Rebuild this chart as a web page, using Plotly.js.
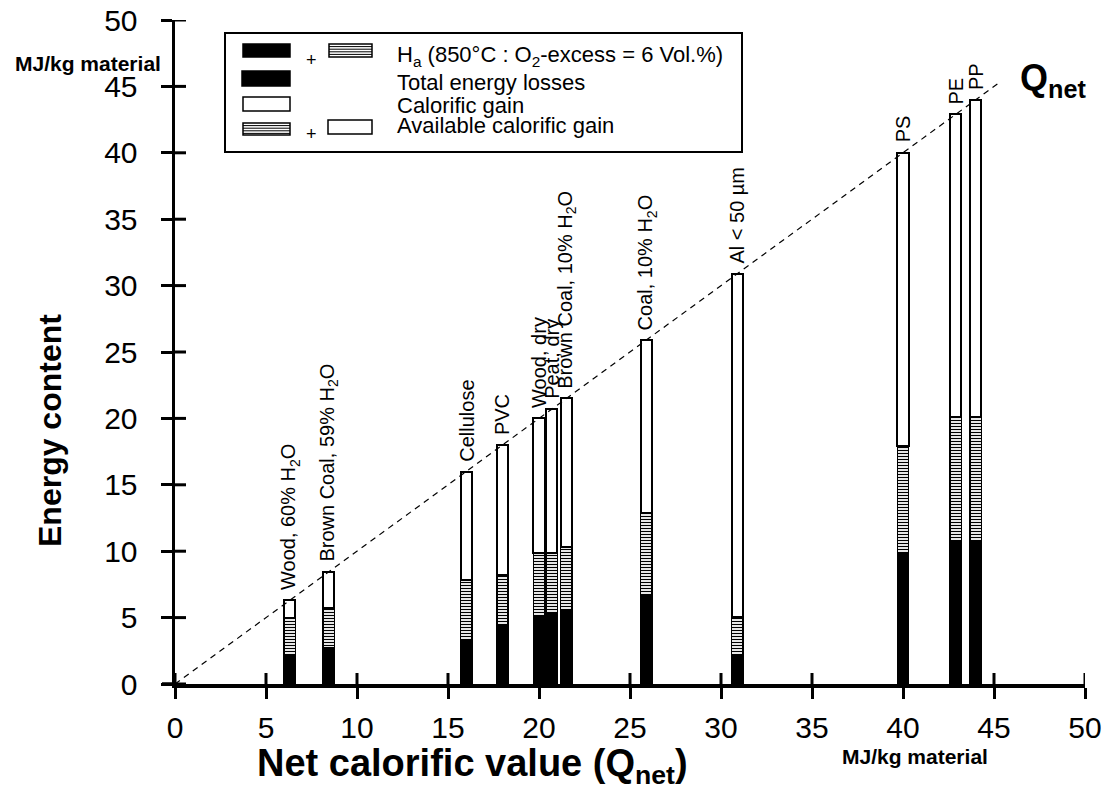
<!DOCTYPE html>
<html>
<head>
<meta charset="utf-8">
<script src="https://cdn.plot.ly/plotly-3.0.1.min.js"></script>
<style>html,body{margin:0;padding:0;background:#fff;}#chart{width:1102px;height:789px;}</style>
</head>
<body>
<div id="chart"></div>
<script>
// ---- data ----
const materials = ["Wood, 60% H<sub>2</sub>O", "Brown Coal, 59% H<sub>2</sub>O", "Cellulose", "PVC",
  "Wood, dry", "Peat, dry", "Brown Coal, 10% H<sub>2</sub>O", "Coal, 10% H<sub>2</sub>O",
  "Al < 50 µm", "PS", "PE", "PP"];
const qnet   = [6.3, 8.45, 16.0, 18.0, 20.0, 20.7, 21.5, 25.9, 30.9, 40.0, 42.9, 44.0];
const losses = [2.2, 2.7, 3.3, 4.45, 5.1, 5.3, 5.5, 6.7, 2.2, 9.8, 10.7, 10.8];
const fluegasHa = [2.8, 3.05, 4.5, 3.75, 4.75, 4.55, 4.8, 6.2, 2.85, 8.1, 9.4, 9.3];
const calorificGain = [1.3, 2.7, 8.2, 9.8, 10.15, 10.85, 11.2, 13.0, 25.85, 22.1, 22.8, 23.9];
const qnetLineX = [0, 45.3];
const qnetLineY = [0, 45.3];
const tickVals = [0, 5, 10, 15, 20, 25, 30, 35, 40, 45, 50];

// ---- geometry helpers (pixel -> paper) ----
const L = 175, R = 17, T = 20, B = 105, W = 1102, H = 789;
const PW = W - L - R, PH = H - T - B;
const px = x => (x - L) / PW;
const py = y => (H - B - y) / PH;
const FONT = "Liberation Sans, Arial, sans-serif";
const barW = 0.62;

const traces = [
  { type: "bar", x: qnet, y: losses, width: barW, name: "Total energy losses",
    marker: { color: "black", line: { color: "black", width: 1.5 } }, hoverinfo: "skip" },
  { type: "bar", x: qnet, y: fluegasHa, width: barW, name: "Ha",
    marker: { color: "white", line: { color: "black", width: 1.5 },
      pattern: { shape: "-", fgcolor: "black", bgcolor: "white", size: 3, solidity: 0.4, fillmode: "replace" } },
    hoverinfo: "skip" },
  { type: "bar", x: qnet, y: calorificGain, width: barW, name: "Calorific gain",
    marker: { color: "white", line: { color: "black", width: 2 } }, hoverinfo: "skip" },
  { type: "scatter", mode: "lines", x: qnetLineX, y: qnetLineY,
    line: { color: "black", width: 1.2, dash: "6px,5px" }, hoverinfo: "skip" }
];

const shapes = [];
const annotations = [];

// inner half of the crossing tick marks
tickVals.forEach(v => {
  shapes.push({ type: "line", xref: "x", yref: "paper", x0: v, x1: v, y0: 0, y1: 11 / PH,
    line: { color: "black", width: 3 }, layer: "above" });
  shapes.push({ type: "line", xref: "paper", yref: "y", x0: 0, x1: 11 / PW, y0: v, y1: v,
    line: { color: "black", width: 3 }, layer: "above" });
});
// small extension of the x axis line to the left of 0
shapes.push({ type: "line", xref: "paper", yref: "paper", x0: px(162), x1: 0, y0: 0, y1: 0,
  line: { color: "black", width: 3.5 }, layer: "above" });

// legend box
shapes.push({ type: "rect", xref: "paper", yref: "paper", x0: px(225), x1: px(742), y0: py(33), y1: py(152),
  line: { color: "black", width: 2 }, fillcolor: "white", layer: "above" });

function solid(x0, y0, x1, y1, fill) {
  shapes.push({ type: "rect", xref: "paper", yref: "paper", x0: px(x0), x1: px(x1), y0: py(y0), y1: py(y1),
    line: { color: "black", width: 1.5 }, fillcolor: fill, layer: "above" });
}
function hatch(x0, y0, x1, y1) {
  solid(x0, y0, x1, y1, "white");
  for (let y = y0 + 2.6; y < y1 - 1; y += 2.6) {
    shapes.push({ type: "line", xref: "paper", yref: "paper", x0: px(x0), x1: px(x1), y0: py(y), y1: py(y),
      line: { color: "black", width: 1 }, layer: "above" });
  }
}
function txt(text, x, y, size, opts) {
  annotations.push(Object.assign({ text: text, xref: "paper", yref: "paper", x: px(x), y: py(y),
    xanchor: "left", yanchor: "middle", showarrow: false,
    font: { family: FONT, size: size, color: "black" } }, opts || {}));
}

solid(243, 44, 290, 57, "black");
hatch(329, 44, 372, 57);
solid(242, 71, 290, 86, "black");
solid(243, 97, 290, 111, "white");
hatch(243, 123, 290, 135);
solid(328, 120, 372, 134, "white");
txt("+", 311, 60, 18, { xanchor: "center" });
txt("+", 311, 134, 18, { xanchor: "center" });
txt("H<sub>a</sub> (850°C : O<sub>2</sub>-excess = 6 Vol.%)", 395, 56, 22);
txt("Total energy losses", 395, 83, 22);
txt("Calorific gain", 395, 105, 22);
txt("Available calorific gain", 395, 126, 22);

// axis titles & units
txt("<b>Energy content</b>", 50, 430, 32, { xanchor: "center", textangle: -90 });
txt("<b>Net calorific value (Q<sub>net</sub>)</b>", 472, 766, 38, { xanchor: "center" });
txt("<b>MJ/kg material</b>", 88, 63, 21, { xanchor: "center" });
txt("<b>MJ/kg material</b>", 915, 756, 21, { xanchor: "center" });
txt("<b>Q<sub>net</sub></b>", 1018, 80, 36);

// bar labels
materials.forEach((m, i) => {
  annotations.push({ text: m, x: qnet[i], y: qnet[i], xref: "x", yref: "y", textangle: -90,
    xanchor: "center", yanchor: "bottom", yshift: 8, showarrow: false,
    font: { family: FONT, size: 20, color: "black" } });
});

const axBase = { range: [0, 50], tickvals: tickVals, fixedrange: true, showgrid: false, zeroline: false };

const layout = {
  width: W, height: H,
  margin: { l: L, r: R, t: T, b: B, pad: 0 },
  paper_bgcolor: "white", plot_bgcolor: "white",
  barmode: "stack", showlegend: false,
  font: { family: FONT, color: "black" },
  xaxis: Object.assign({}, axBase, { showline: true, linecolor: "black", linewidth: 3.5,
    ticks: "outside", ticklen: 11, tickwidth: 3, tickcolor: "black",
    tickfont: { family: FONT, size: 30, color: "black" }, ticklabelstandoff: 3 }),
  yaxis: Object.assign({}, axBase, { showline: true, linecolor: "black", linewidth: 3.5,
    ticks: "outside", ticklen: 11, tickwidth: 3, tickcolor: "black",
    tickfont: { family: FONT, size: 30, color: "black" }, ticklabelstandoff: 17 }),
  shapes: shapes,
  annotations: annotations
};

Plotly.newPlot("chart", traces, layout, { displayModeBar: false, staticPlot: true });
</script>
</body>
</html>
